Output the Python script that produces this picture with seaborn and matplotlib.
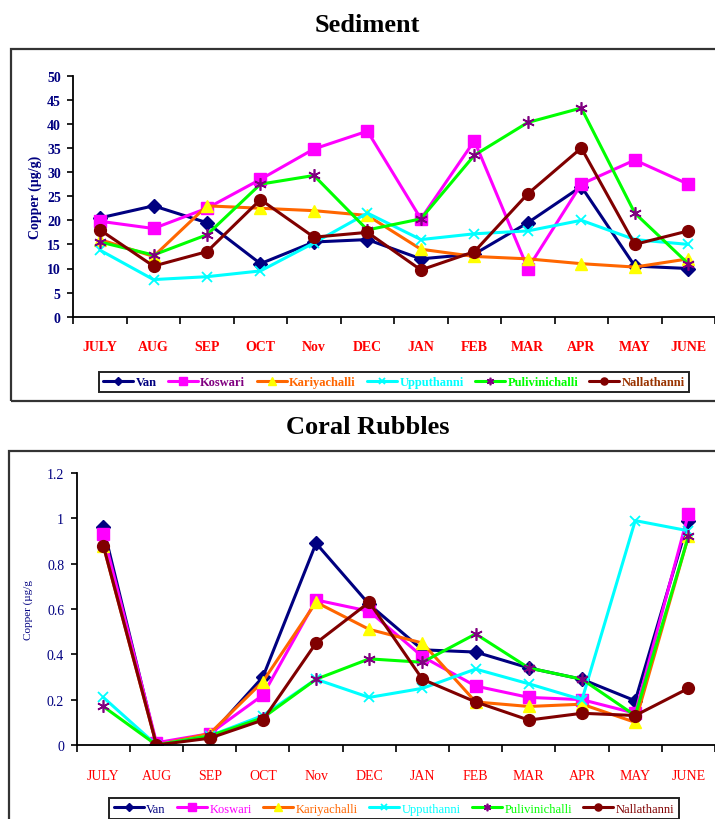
import matplotlib
matplotlib.use("Agg")
import matplotlib.pyplot as plt
import numpy as np
import seaborn as sns
from matplotlib.patches import Rectangle

# ---- data -------------------------------------------------------------
months = ["JULY", "AUG", "SEP", "OCT", "Nov", "DEC",
          "JAN", "FEB", "MAR", "APR", "MAY", "JUNE"]
stations = ["Van", "Koswari", "Kariyachalli", "Upputhanni",
            "Pulivinichalli", "Nallathanni"]

# Copper in sediment (µg/g)
van_sed = [20.5, 23.0, 19.5, 11.0, 15.5, 16.0, 12.0, 13.0, 19.5, 27.0, 10.5, 10.0]
koswari_sed = [19.8, 18.3, 22.5, 28.5, 34.8, 38.5, 20.3, 36.5, 10.0, 27.5, 32.5, 27.5]
kariyachalli_sed = [16.0, 12.5, 23.0, 22.5, 22.0, 21.0, 14.0, 12.5, 12.0, 11.0, 10.3, 12.0]
upputhanni_sed = [13.8, 7.7, 8.3, 9.5, 15.3, 21.5, 16.0, 17.2, 17.8, 20.0, 16.0, 15.0]
pulivinichalli_sed = [15.5, 12.8, 17.0, 27.5, 29.3, 18.0, 20.3, 33.5, 40.3, 43.3, 21.5, 11.0]
nallathanni_sed = [18.0, 10.5, 13.5, 24.3, 16.5, 17.5, 9.7, 13.5, 25.5, 35.0, 15.0, 17.8]

# Copper in coral rubbles (µg/g)
van_cor = [0.96, 0.00, 0.04, 0.30, 0.89, 0.62, 0.42, 0.41, 0.34, 0.29, 0.195, 0.99]
koswari_cor = [0.93, 0.01, 0.05, 0.22, 0.64, 0.59, 0.39, 0.26, 0.21, 0.20, 0.14, 1.02]
kariyachalli_cor = [0.88, 0.00, 0.05, 0.28, 0.63, 0.51, 0.45, 0.19, 0.17, 0.18, 0.10, 0.92]
upputhanni_cor = [0.21, 0.00, 0.04, 0.13, 0.29, 0.21, 0.25, 0.335, 0.27, 0.20, 0.99, 0.945]
pulivinichalli_cor = [0.17, 0.00, 0.04, 0.12, 0.29, 0.38, 0.365, 0.49, 0.34, 0.29, 0.13, 0.92]
nallathanni_cor = [0.88, 0.00, 0.03, 0.11, 0.45, 0.63, 0.29, 0.19, 0.11, 0.14, 0.13, 0.25]

sediment = [van_sed, koswari_sed, kariyachalli_sed, upputhanni_sed,
            pulivinichalli_sed, nallathanni_sed]
coral = [van_cor, koswari_cor, kariyachalli_cor, upputhanni_cor,
         pulivinichalli_cor, nallathanni_cor]

# ---- styles -----------------------------------------------------------
NAVY = "#000080"
styles = [
    dict(color=NAVY, marker="D", ms=7, mfc=NAVY, mec=NAVY, mew=1),
    dict(color="#FF00FF", marker="s", ms=8.5, mfc="#FF00FF", mec="#FF00FF", mew=1),
    dict(color="#FF6600", marker="^", ms=9, mfc="#FFFF00", mec="#FFFF00", mew=1),
    dict(color="#00FFFF", marker="x", ms=7, mfc="#00FFFF", mec="#00FFFF", mew=1.3),
    dict(color="#00FF00", marker=(6, 2, 0), ms=9, mfc="#800080", mec="#800080", mew=1.2),
    dict(color="#800000", marker="o", ms=8.5, mfc="#800000", mec="#800000", mew=1),
]
legend_colors_top = [NAVY, "#800080", "#FF6600", "#00FFFF", "#00FF00", "#993300"]
legend_colors_bot = [NAVY, "#FF00FF", "#FF6600", "#00FFFF", "#00FF00", "#800000"]

sns.set_style("white")
plt.rcParams["font.family"] = ["Liberation Serif", "DejaVu Serif"]
plt.rcParams["text.color"] = "black"

W, H = 715, 820


def fx(x):
    return x / W


def fy(y):
    return 1 - y / H


fig = plt.figure(figsize=(W / 100, H / 100), dpi=100)

# outer panel frames
for (x0, y0, x1, y1) in [(11, 50, 717, 402), (9, 452, 717, 823)]:
    fig.add_artist(Rectangle((fx(x0), fy(y1)), fx(x1) - fx(x0), fy(y0) - fy(y1),
                             transform=fig.transFigure, fill=False,
                             ec="#333333", lw=1.6))

fig.text(fx(367), fy(26), "Sediment", ha="center", va="center",
         fontsize=19, fontweight="bold", color="black")
fig.text(fx(368), fy(428), "Coral Rubbles", ha="center", va="center",
         fontsize=19, fontweight="bold", color="black")

x = np.arange(len(months))


def draw_panel(ax, series, ymax, ystep, bold, ylabel, ylab_x):
    for name, vals, st in zip(stations, series, styles):
        sns.lineplot(x=x, y=vals, ax=ax, color=st["color"], linewidth=2.2,
                     marker=st["marker"], markersize=st["ms"],
                     markerfacecolor=st["mfc"], markeredgecolor=st["mec"],
                     markeredgewidth=st["mew"], label=name, legend=False)
    ax.set_xlim(-0.5, len(months) - 0.5)
    ax.set_ylim(0, ymax)
    ax.set_facecolor("none")
    for s in ("top", "right"):
        ax.spines[s].set_visible(False)
    for s in ("left", "bottom"):
        ax.spines[s].set_color("black")
        ax.spines[s].set_linewidth(1.3)
    weight = "bold" if bold else "normal"
    ax.set_xticks(x)
    ax.set_xticklabels(months, color="red", fontweight=weight, fontsize=10)
    ax.set_xticks(np.arange(-0.5, len(months), 1), minor=True)
    ax.tick_params(axis="x", which="major", bottom=True, length=0, pad=17)
    ax.tick_params(axis="x", which="minor", bottom=True, length=5,
                   width=1.2, direction="out", color="black")
    yt = np.round(np.arange(0, ymax + ystep / 2, ystep), 2)
    ax.set_yticks(yt)
    ax.set_yticklabels([f"{v:g}" for v in yt], color=NAVY,
                       fontweight=weight, fontsize=10)
    ax.tick_params(axis="y", which="major", left=True, length=4, width=1.2,
                   direction="out", color="black", pad=5)
    ax.set_xlabel("")
    ax.set_ylabel(ylabel, color=NAVY, fontweight=weight,
                  fontsize=10 if bold else 8)
    ax.yaxis.set_label_coords(ylab_x, 0.5)


ax1 = fig.add_axes([fx(73.3), fy(317.7), fx(715) - fx(73.3), fy(76.7) - fy(317.7)])
draw_panel(ax1, sediment, 50, 5, True, "Copper (µg/g)", -0.049)

ax2 = fig.add_axes([fx(76.7), fy(746), fx(715) - fx(76.7), fy(474) - fy(746)])
draw_panel(ax2, coral, 1.2, 0.2, False, "Copper (µg/g", -0.068)


def add_legend(ax, cy, colors, bold, anchor_loc):
    handles, labels = ax.get_legend_handles_labels()
    leg = fig.legend(handles, labels, loc=anchor_loc,
                     bbox_to_anchor=(fx(394), cy), ncol=6, frameon=True,
                     fancybox=False, edgecolor="#222222", framealpha=1,
                     markerscale=0.6, handlelength=2.4,
                     handletextpad=0.2, columnspacing=0.9,
                     borderpad=0.35, prop=dict(weight="bold" if bold else "normal",
                                               size=9))
    leg.get_frame().set_linewidth(1.4)
    for t, c in zip(leg.get_texts(), colors):
        t.set_color(c)
    return leg


add_legend(ax1, fy(383), legend_colors_top, True, "center")
add_legend(ax2, fy(793), legend_colors_bot, False, "upper center")

fig.savefig("out.png", dpi=100)
